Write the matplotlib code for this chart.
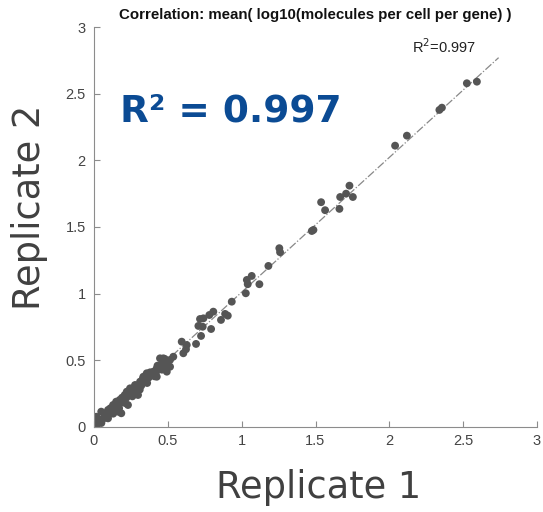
"""Replicate correlation scatter: mean log10 molecules per cell per gene."""
import matplotlib

matplotlib.use("Agg")
import matplotlib.pyplot as plt

# replicate 1 (x) and replicate 2 (y) values
rep1 = [
    0.00, 0.02, 0.04, 0.06, 0.08, 0.10, 0.12, 0.14, 0.16, 0.18, 0.20, 0.22,
    0.25, 0.27, 0.30, 0.32, 0.35, 0.37, 0.40, 0.42, 0.45, 0.47, 0.50,
    0.016, 0.049, 0.095, 0.129, 0.174, 0.208, 0.253, 0.298,
    0.027, 0.095, 0.163, 0.230, 0.298, 0.185,
    0.515, 0.447, 0.470, 0.425, 0.402, 0.357, 0.334, 0.312, 0.278, 0.244,
    0.222, 0.493, 0.515, 0.425,
    0.03, 0.07, 0.11, 0.15, 0.19, 0.24, 0.28, 0.33, 0.38, 0.43, 0.48,
    0.05, 0.09, 0.13, 0.17, 0.21, 0.26, 0.31, 0.36, 0.41, 0.46,
    1.035, 1.041, 1.120, 1.028, 0.933, 0.808, 0.781, 0.741, 0.718, 0.888,
    0.906, 0.860, 0.707, 0.736, 0.793, 0.725, 0.691, 0.594, 0.628, 0.623,
    0.605, 0.537, 0.470,
    1.730, 1.707, 1.667, 1.753, 1.662, 1.538, 1.565, 1.486, 1.475, 1.255,
    1.260, 1.181, 1.068,
    2.525, 2.593, 2.339, 2.356, 2.119, 2.039,
]
rep2 = [
    0.00, 0.02, 0.05, 0.06, 0.09, 0.10, 0.13, 0.14, 0.17, 0.18, 0.21, 0.22,
    0.25, 0.28, 0.30, 0.31, 0.36, 0.37, 0.40, 0.41, 0.46, 0.45, 0.49,
    0.077, 0.115, 0.128, 0.165, 0.203, 0.240, 0.278, 0.302,
    0.028, 0.065, 0.115, 0.165, 0.240, 0.103,
    0.503, 0.515, 0.478, 0.440, 0.415, 0.403, 0.377, 0.340, 0.315, 0.290,
    0.265, 0.415, 0.452, 0.377,
    0.06, 0.10, 0.14, 0.19, 0.22, 0.27, 0.31, 0.36, 0.41, 0.46, 0.51,
    0.03, 0.07, 0.10, 0.14, 0.18, 0.23, 0.28, 0.33, 0.38, 0.43,
    1.103, 1.071, 1.071, 1.003, 0.940, 0.865, 0.840, 0.815, 0.810, 0.848,
    0.835, 0.803, 0.758, 0.752, 0.735, 0.683, 0.623, 0.640, 0.615, 0.583,
    0.553, 0.527, 0.515,
    1.810, 1.750, 1.725, 1.725, 1.636, 1.686, 1.626, 1.478, 1.470, 1.341,
    1.311, 1.208, 1.133,
    2.578, 2.590, 2.378, 2.395, 2.185, 2.110,
]
fit_x = [0.0, 2.74]
fit_y = [0.0, 2.77]
ticks = [0, 0.5, 1, 1.5, 2, 2.5, 3]
tick_labels = ["0", "0.5", "1", "1.5", "2", "2.5", "3"]

fig = plt.figure(figsize=(5.43, 5.12), dpi=100)
ax = fig.add_axes([94 / 543, 85 / 512, 443 / 543, 400 / 512])

ax.plot(fit_x, fit_y, color="#888888", linestyle="-.", linewidth=0.9, zorder=1)
ax.scatter(rep1, rep2, s=32, color="#555555", edgecolors="none", zorder=2)

ax.set_xlim(0, 3)
ax.set_ylim(0, 3)
ax.set_xticks(ticks)
ax.set_xticklabels(tick_labels)
ax.set_yticks(ticks)
ax.set_yticklabels(tick_labels)
for side in ("top", "right"):
    ax.spines[side].set_visible(False)
for side in ("left", "bottom"):
    ax.spines[side].set_color("#8c8c8c")
    ax.spines[side].set_linewidth(0.8)
ax.tick_params(direction="in", length=4, color="#8c8c8c", width=0.8,
               labelsize=10.5, labelcolor="#444444")
for lab in ax.get_xticklabels() + ax.get_yticklabels():
    lab.set_family("Liberation Sans")
ax.tick_params(axis="x", pad=5)
ax.tick_params(axis="y", pad=6)

fig.text(315 / 543, 1 - 15 / 512,
         "Correlation: mean( log10(molecules per cell per gene) )",
         ha="center", va="center", fontsize=10.8, fontweight="bold",
         family="Liberation Sans", color="#111111")
fig.text(412 / 543, 1 - 47 / 512, "R$^2$=0.997", ha="left", va="center",
         fontsize=10.5, family="Liberation Sans", color="#222222")

fig.text(120 / 543, 1 - 122 / 512, "R² = 0.997", ha="left", va="baseline",
         fontsize=27, fontweight="bold", family="DejaVu Sans", color="#0b4b94")
fig.text(319 / 543, 1 - 498 / 512, "Replicate 1", ha="center", va="baseline",
         fontsize=26.5, family="DejaVu Sans", color="#404040")
fig.text(30 / 543, 1 - 207 / 512, "Replicate 2", ha="center", va="center",
         rotation=90, fontsize=26.5, family="DejaVu Sans", color="#404040")

fig.savefig("out.png", dpi=100, facecolor="white")
